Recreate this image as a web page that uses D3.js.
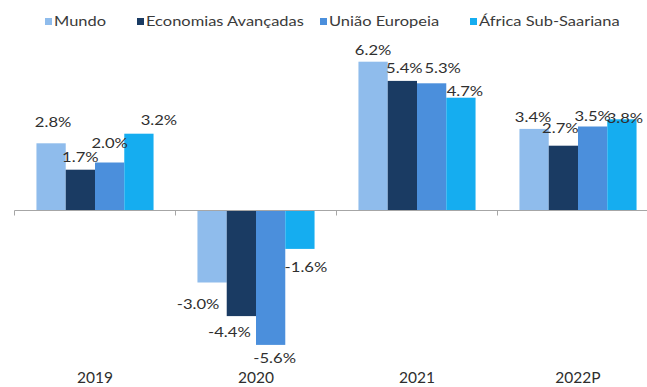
<!DOCTYPE html>
<html lang="pt">
<head>
<meta charset="utf-8">
<script src="https://cdn.jsdelivr.net/npm/d3@7"></script>
<style>
  html, body { margin: 0; padding: 0; background: #ffffff; }
  svg { display: block; }
  text { font-family: Lato, "Open Sans", sans-serif; }
</style>
</head>
<body>
<svg id="chart" width="647" height="387"></svg>
<script>
// Crescimento do PIB real (%), por região
const years = ["2019", "2020", "2021", "2022P"];
const seriesNames = ["Mundo", "Economias Avançadas", "União Europeia", "África Sub-Saariana"];
const mundo = [2.8, -3.0, 6.2, 3.4];
const economiasAvancadas = [1.7, -4.4, 5.4, 2.7];
const uniaoEuropeia = [2.0, -5.6, 5.3, 3.5];
const africaSubSaariana = [3.2, -1.6, 4.7, 3.8];
const seriesColors = ["#8fbcec", "#1a3b63", "#4b8fdc", "#15adf0"];

const seriesValues = [mundo, economiasAvancadas, uniaoEuropeia, africaSubSaariana];

// Small hand offsets (px) so neighbouring value labels do not collide: [dx, dy]
const labelNudge = [
  [[2, -11], [-14, 11], [0, -2], [-1, -2]],
  [[0, -3], [-12, 6], [2, -3], [-3, -8]],
  [[0, -10], [4, 3], [11, -5], [0, -1]],
  [[20, -4], [6, 8], [4, 3], [3, 9]]
];

const svg = d3.select("#chart");

const x = d3.scaleBand().domain(years).range([14.5, 658.5]).padding(0);
const xSub = d3.scaleBand().domain(seriesNames).range([0, x.bandwidth()])
  .paddingInner(0).paddingOuter(0.75);
const y = d3.scaleLinear().domain([-7, 7]).range([378.5, 42.5]);

// stretched text, as the labels are set wide
function placeText(sel, tx, ty, sx) {
  return sel.attr("transform", `translate(${tx},${ty}) scale(${sx},1)`);
}

// Bars
const rows = [];
seriesNames.forEach((s, si) => {
  years.forEach((yr, yi) => {
    rows.push({ series: s, si, year: yr, yi, value: seriesValues[si][yi] });
  });
});

svg.append("g").selectAll("rect").data(rows).join("rect")
  .attr("x", d => x(d.year) + xSub(d.series))
  .attr("width", xSub.bandwidth())
  .attr("y", d => y(Math.max(0, d.value)))
  .attr("height", d => Math.abs(y(d.value) - y(0)))
  .attr("fill", d => seriesColors[d.si]);

// Category axis along zero
const axis = svg.append("g").attr("transform", `translate(0,${y(0)})`);
axis.append("line")
  .attr("x1", x.range()[0]).attr("x2", x.range()[1])
  .attr("y1", 0).attr("y2", 0)
  .attr("stroke", "#a6a6a6").attr("stroke-width", 1);
axis.selectAll("line.tick").data(years).join("line")
  .attr("class", "tick")
  .attr("x1", d => x(d)).attr("x2", d => x(d))
  .attr("y1", 0).attr("y2", 5)
  .attr("stroke", "#a6a6a6").attr("stroke-width", 1);

// Year labels at the bottom
svg.append("g").selectAll("text").data(years).join("text")
  .each(function (d) {
    placeText(d3.select(this), x(d) + x.bandwidth() / 2, 383, 1.0);
  })
  .attr("text-anchor", "middle")
  .attr("font-size", 15.5)
  .attr("fill", "#2e2e2e")
  .text(d => d);

// Value labels
const fmt = v => v.toFixed(1) + "%";
svg.append("g").selectAll("text").data(rows).join("text")
  .each(function (d) {
    const cx = x(d.year) + xSub(d.series) + xSub.bandwidth() / 2;
    const base = d.value >= 0 ? y(d.value) - 5 : y(d.value) + 15;
    const [dx, dy] = labelNudge[d.si][d.yi];
    placeText(d3.select(this), cx + dx, base + dy, 1.17);
  })
  .attr("text-anchor", "middle")
  .attr("font-size", 14.2)
  .attr("fill", "#2f2f2f")
  .text(d => fmt(d.value));

// Legend
const legendX = [45, 137, 320, 470];
const legend = svg.append("g").selectAll("g").data(seriesNames).join("g")
  .attr("transform", (d, i) => `translate(${legendX[i]},0)`);
legend.append("rect")
  .attr("x", 0).attr("y", 18).attr("width", 7).attr("height", 7)
  .attr("fill", (d, i) => seriesColors[i]);
legend.append("text")
  .each(function () { placeText(d3.select(this), 9, 25.5, 1.22); })
  .attr("font-size", 13.5)
  .attr("fill", "#3a3a3a")
  .text(d => d);
</script>
</body>
</html>
